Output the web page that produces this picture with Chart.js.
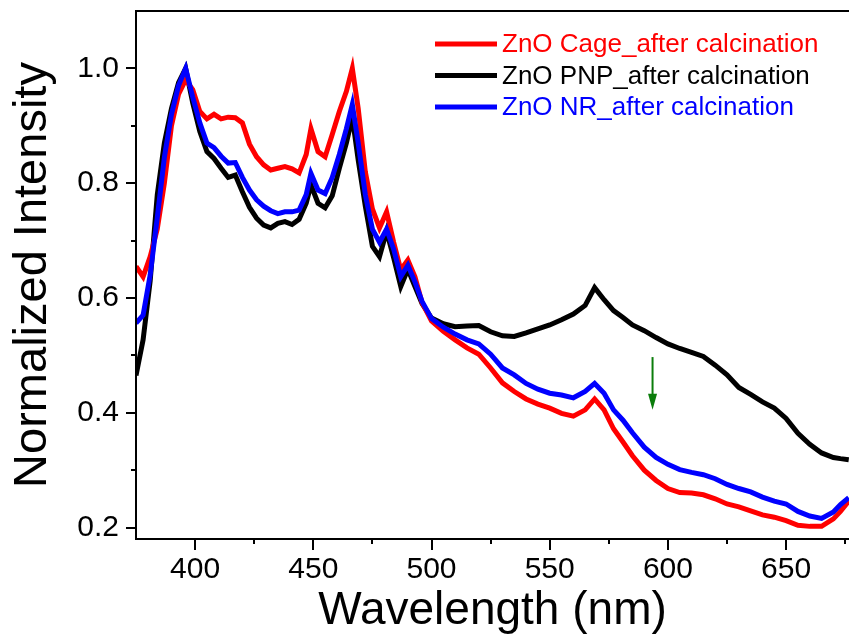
<!DOCTYPE html>
<html>
<head>
<meta charset="utf-8">
<title>Normalized Intensity - ZnO after calcination</title>
<script src="https://cdn.jsdelivr.net/npm/chart.js@4.4.1/dist/chart.umd.min.js"></script>
<style>
  html, body { margin: 0; padding: 0; background: #fff; }
  #wrap { width: 849px; height: 639px; }
</style>
</head>
<body>
<div id="wrap"><canvas id="grafico" width="849" height="639"></canvas></div>
<script>
// Comprimentos de onda (nm)
const wavelengths = [
  375, 378, 381, 384, 387, 390, 393, 396, 399, 402,
  405, 408, 411, 414, 417, 420, 423, 426, 429, 432,
  435, 438, 441, 444, 447, 449, 452, 455, 458, 461,
  464, 466.5, 469, 472, 475, 478, 481, 484, 487, 490,
  493, 496, 500, 505, 510, 515, 520, 525, 530, 535,
  540, 545, 550, 555, 560, 565, 569, 573, 577, 581,
  585, 590, 595, 600, 605, 610, 615, 620, 625, 630,
  635, 640, 645, 650, 655, 660, 665, 670, 673, 676.5,
];

// ZnO Cage
const cageValues = [
  0.655, 0.637, 0.672, 0.72, 0.80, 0.90, 0.955, 0.98, 0.963, 0.925,
  0.912, 0.92, 0.912, 0.915, 0.914, 0.905, 0.868, 0.846, 0.832, 0.823,
  0.826, 0.829, 0.825, 0.818, 0.85, 0.895, 0.855, 0.846, 0.885, 0.925,
  0.96, 1.0, 0.93, 0.82, 0.755, 0.722, 0.75, 0.697, 0.649, 0.666,
  0.637, 0.592, 0.56, 0.542, 0.527, 0.513, 0.502, 0.478, 0.452, 0.437,
  0.424, 0.415, 0.408, 0.399, 0.394, 0.405, 0.424, 0.405, 0.372, 0.349,
  0.325, 0.30, 0.282, 0.268, 0.261, 0.26, 0.257, 0.25, 0.241, 0.236,
  0.229, 0.222, 0.218, 0.212, 0.204, 0.202, 0.202, 0.215, 0.228, 0.246,
];

// ZnO PNP
const pnpValues = [
  0.465, 0.527, 0.63, 0.78, 0.87, 0.93, 0.975, 1.0, 0.94, 0.89,
  0.855, 0.843, 0.826, 0.81, 0.814, 0.785, 0.758, 0.739, 0.727, 0.722,
  0.73, 0.733, 0.728, 0.737, 0.765, 0.797, 0.765, 0.757, 0.778, 0.826,
  0.87, 0.915, 0.84, 0.76, 0.69, 0.672, 0.716, 0.67, 0.62, 0.65,
  0.62, 0.59, 0.565, 0.555, 0.55, 0.551, 0.552, 0.541, 0.534, 0.533,
  0.539, 0.546, 0.553, 0.562, 0.572, 0.587, 0.618, 0.597, 0.578, 0.566,
  0.553, 0.543, 0.531, 0.52, 0.512, 0.505, 0.498, 0.483, 0.466, 0.444,
  0.432, 0.419, 0.408, 0.39, 0.364, 0.345, 0.33, 0.322, 0.32, 0.318,
];

// ZnO NR
const nrValues = [
  0.556, 0.57, 0.64, 0.74, 0.845, 0.92, 0.97, 1.0, 0.95, 0.905,
  0.87, 0.862, 0.847, 0.835, 0.836, 0.81, 0.788, 0.771, 0.76, 0.752,
  0.747, 0.75, 0.75, 0.753, 0.78, 0.817, 0.788, 0.782, 0.81, 0.85,
  0.895, 0.937, 0.87, 0.78, 0.72, 0.697, 0.72, 0.685, 0.637, 0.657,
  0.628, 0.594, 0.564, 0.549, 0.537, 0.527, 0.52, 0.502, 0.478, 0.466,
  0.451, 0.441, 0.434, 0.431, 0.426, 0.437, 0.451, 0.434, 0.405, 0.387,
  0.365, 0.34, 0.322, 0.31, 0.301, 0.296, 0.292, 0.285, 0.275, 0.268,
  0.262, 0.253, 0.246, 0.241, 0.228, 0.22, 0.216, 0.227, 0.24, 0.252,
];

const xTickLabels = [400, 450, 500, 550, 600, 650];
const yTickLabels = [0.2, 0.4, 0.6, 0.8, 1.0];

function pares(valores) {
  return wavelengths.map((w, i) => ({ x: w, y: valores[i] }));
}

function isMajorY(v) {
  return yTickLabels.some((l) => Math.abs(l - v) < 1e-6);
}

Chart.defaults.font.family = '"Liberation Sans", Arial, sans-serif';
Chart.defaults.color = '#000';

// Eixos (esquerda, baixo, topo) com ticks maiores e menores
const eixos = {
  id: 'eixos',
  afterDraw(chart) {
    const c = chart.ctx;
    const a = chart.chartArea;
    const x = chart.scales.x;
    const y = chart.scales.y;
    const L = Math.round(a.left);
    const T = Math.round(a.top);
    const B = Math.round(a.bottom);
    const R = chart.width;
    c.save();
    c.fillStyle = '#000';
    c.fillRect(L - 1, T - 1, R - L + 1, 2);
    c.fillRect(L - 1, T - 1, 2, B - T + 2);
    c.fillRect(L - 1, B - 1, R - L + 1, 2);
    x.ticks.forEach((t) => {
      const px = Math.round(x.getPixelForValue(t.value));
      if (px - L < 3) return;
      const len = xTickLabels.includes(t.value) ? 11 : 5;
      c.fillRect(px - 1, B, 2, len);
    });
    y.ticks.forEach((t) => {
      const py = Math.round(y.getPixelForValue(t.value));
      if (py - T < 3) return;
      const len = isMajorY(t.value) ? 10 : 5;
      c.fillRect(L - len, py - 1, len, 2);
    });
    c.restore();
  },
};

// Legenda dentro da área do gráfico
const legenda = {
  id: 'legenda',
  afterDraw(chart) {
    const c = chart.ctx;
    const a = chart.chartArea;
    c.save();
    c.font = '26px "Liberation Sans", Arial, sans-serif';
    c.textBaseline = 'middle';
    c.textAlign = 'left';
    chart.data.datasets.forEach((ds, i) => {
      const yy = a.top + 33 + i * 31.5;
      c.strokeStyle = ds.borderColor;
      c.lineWidth = 5;
      c.beginPath();
      c.moveTo(a.left + 299, yy);
      c.lineTo(a.left + 361, yy);
      c.stroke();
      c.fillStyle = ds.borderColor;
      c.fillText(ds.label, a.left + 366, yy + 1);
    });
    c.restore();
  },
};

// Seta verde
const seta = {
  id: 'seta',
  afterDatasetsDraw(chart) {
    const c = chart.ctx;
    const px = chart.scales.x.getPixelForValue(593.5);
    const y0 = chart.scales.y.getPixelForValue(0.497);
    const y1 = chart.scales.y.getPixelForValue(0.405);
    c.save();
    c.strokeStyle = '#0b7d0b';
    c.fillStyle = '#0b7d0b';
    c.lineWidth = 2;
    c.beginPath();
    c.moveTo(px, y0);
    c.lineTo(px, y1 - 12);
    c.stroke();
    c.beginPath();
    c.moveTo(px - 4.5, y1 - 16);
    c.lineTo(px + 4.5, y1 - 16);
    c.lineTo(px, y1);
    c.closePath();
    c.fill();
    c.restore();
  },
};

const ctx = document.getElementById('grafico').getContext('2d');
const grafico = new Chart(ctx, {
  type: 'line',
  data: {
    datasets: [
      {
        label: 'ZnO Cage_after calcination',
        data: pares(cageValues),
        borderColor: '#ff0000',
        borderWidth: 5,
        pointRadius: 0,
        tension: 0,
        order: 1,
      },
      {
        label: 'ZnO PNP_after calcination',
        data: pares(pnpValues),
        borderColor: '#000000',
        borderWidth: 5,
        pointRadius: 0,
        tension: 0,
        order: 2,
      },
      {
        label: 'ZnO NR_after calcination',
        data: pares(nrValues),
        borderColor: '#0000ff',
        borderWidth: 5,
        pointRadius: 0,
        tension: 0,
        order: 0,
      },
    ],
  },
  options: {
    responsive: false,
    animation: false,
    devicePixelRatio: 1,
    layout: { padding: { top: 11, left: 0, right: 0, bottom: 0 } },
    scales: {
      x: {
        type: 'linear',
        min: 375,
        max: 676.6,
        afterFit: (scale) => {
          scale.height = 100;
          scale.paddingLeft = 0;
          scale.paddingRight = 0;
        },
        border: { display: false },
        grid: {
          drawOnChartArea: false,
          drawTicks: true,
          tickLength: 11,
          color: 'rgba(0,0,0,0)',
        },
        ticks: {
          stepSize: 25,
          includeBounds: false,
          autoSkip: false,
          maxRotation: 0,
          padding: 2,
          font: { size: 30 },
          callback: (v) => (xTickLabels.includes(v) ? String(v) : ''),
        },
        title: {
          display: true,
          text: 'Wavelength (nm)',
          font: { size: 46 },
          padding: { top: 0, bottom: 0 },
        },
      },
      y: {
        min: 0.18,
        max: 1.1,
        afterFit: (scale) => {
          scale.width = 136;
          scale.paddingTop = 0;
          scale.paddingBottom = 0;
        },
        border: { display: false },
        grid: {
          drawOnChartArea: false,
          drawTicks: true,
          tickLength: 10,
          color: 'rgba(0,0,0,0)',
        },
        ticks: {
          stepSize: 0.1,
          includeBounds: false,
          autoSkip: false,
          padding: 7,
          font: { size: 30 },
          callback: (v) => (isMajorY(v) ? v.toFixed(1) : ''),
        },
        title: {
          display: true,
          text: 'Normalized Intensity',
          font: { size: 47 },
          padding: { top: 5, bottom: 0 },
        },
      },
    },
    plugins: {
      legend: { display: false },
      tooltip: { enabled: false },
    },
  },
  plugins: [seta, eixos, legenda],
});
</script>
</body>
</html>
